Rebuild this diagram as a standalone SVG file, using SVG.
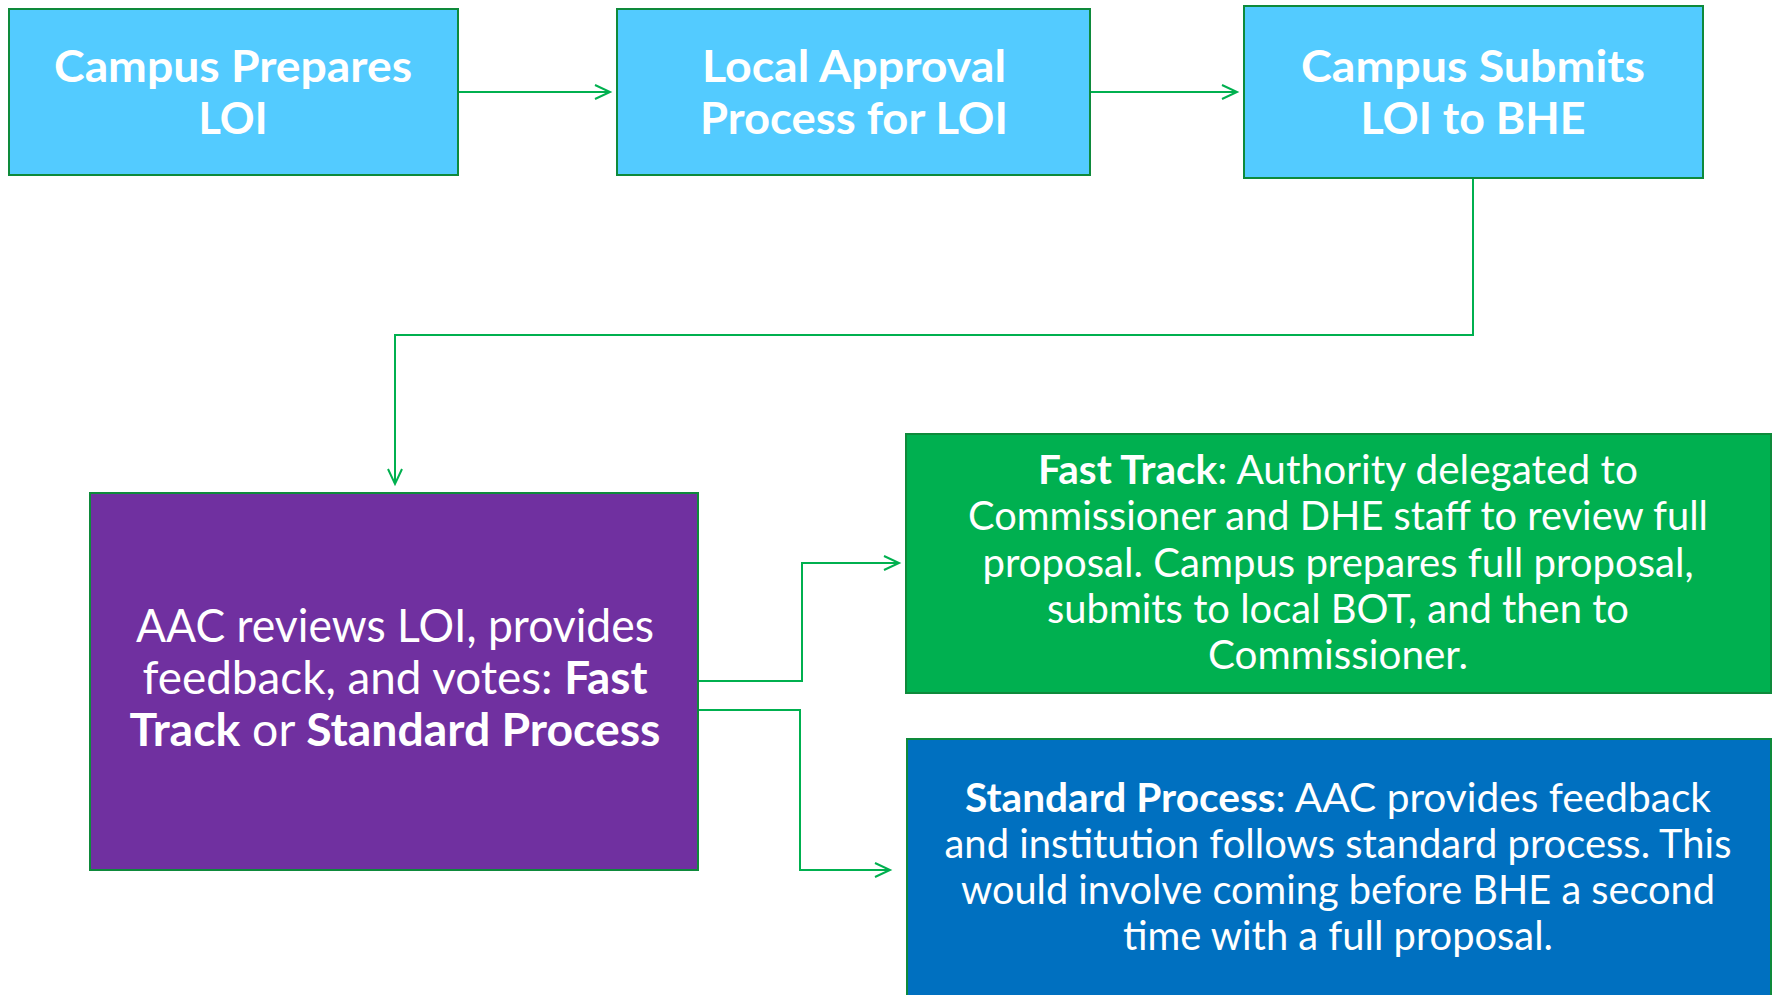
<svg xmlns="http://www.w3.org/2000/svg" width="1773" height="995" viewBox="0 0 1773 995">
<style>
.box{stroke:#0E8A3B;stroke-width:2}
.lb{fill:#53CBFF}
.t{fill:#FFFFFF;font-family:Lato,"Open Sans","Liberation Sans",sans-serif;text-anchor:middle}
.b{font-weight:bold}
.h{font-size:44px;font-weight:bold}
.m{font-size:46px}
.s{font-size:40px}
.c{fill:none;stroke:#00B04F;stroke-width:2}
</style>
<defs>
<marker id="arr" markerWidth="20" markerHeight="20" refX="17" refY="8" orient="auto" markerUnits="userSpaceOnUse" viewBox="0 0 20 16">
<polyline points="2,1 17,8 2,15" fill="none" stroke="#00B04F" stroke-width="2"/>
</marker>
</defs>
<rect width="1773" height="995" fill="#FFFFFF"/>
<g id="connectors">
<path class="c" d="M458,92 H610" marker-end="url(#arr)"/>
<path class="c" d="M1090,92 H1237" marker-end="url(#arr)"/>
<path class="c" d="M1473,178 V335 H395 V484" marker-end="url(#arr)"/>
<path class="c" d="M698,681 H802 V563 H899" marker-end="url(#arr)"/>
<path class="c" d="M698,710 H800 V870 H890" marker-end="url(#arr)"/>
</g>
<g id="node1">
<rect class="box lb" x="9" y="9" width="449" height="166"/>
<text class="t h" x="233" y="82" textLength="358" lengthAdjust="spacingAndGlyphs">Campus Prepares</text>
<text class="t h" x="233" y="134" textLength="69" lengthAdjust="spacingAndGlyphs">LOI</text>
</g>
<g id="node2">
<rect class="box lb" x="617" y="9" width="473" height="166"/>
<text class="t h" x="854" y="82" textLength="304" lengthAdjust="spacingAndGlyphs">Local Approval</text>
<text class="t h" x="854" y="134" textLength="308" lengthAdjust="spacingAndGlyphs">Process for LOI</text>
</g>
<g id="node3">
<rect class="box lb" x="1244" y="6" width="459" height="172"/>
<text class="t h" x="1473" y="82" textLength="344" lengthAdjust="spacingAndGlyphs">Campus Submits</text>
<text class="t h" x="1473" y="134" textLength="225" lengthAdjust="spacingAndGlyphs">LOI to BHE</text>
</g>
<g id="node4">
<rect class="box" fill="#7030A0" x="90" y="493" width="608" height="377"/>
<text class="t m" x="395" y="642" textLength="518" lengthAdjust="spacingAndGlyphs">AAC reviews LOI, provides</text>
<text class="t m" x="395" y="694" textLength="505" lengthAdjust="spacingAndGlyphs">feedback, and votes: <tspan class="b">Fast</tspan></text>
<text class="t m" x="395" y="746" textLength="531" lengthAdjust="spacingAndGlyphs"><tspan class="b">Track</tspan> or <tspan class="b">Standard Process</tspan></text>
</g>
<g id="node5">
<rect class="box" fill="#00B050" x="906" y="434" width="865" height="259"/>
<text class="t s" x="1338" y="484" textLength="600" lengthAdjust="spacingAndGlyphs"><tspan class="b">Fast Track</tspan>: Authority delegated to</text>
<text class="t s" x="1338" y="530" textLength="740" lengthAdjust="spacingAndGlyphs">Commissioner and DHE staff to review full</text>
<text class="t s" x="1338" y="577" textLength="711" lengthAdjust="spacingAndGlyphs">proposal. Campus prepares full proposal,</text>
<text class="t s" x="1338" y="623" textLength="582" lengthAdjust="spacingAndGlyphs">submits to local BOT, and then to</text>
<text class="t s" x="1338" y="669" textLength="260" lengthAdjust="spacingAndGlyphs">Commissioner.</text>
</g>
<g id="node6">
<rect class="box" fill="#0070C0" x="907" y="739" width="864" height="270"/>
<text class="t s" x="1338" y="812" textLength="746" lengthAdjust="spacingAndGlyphs"><tspan class="b">Standard Process</tspan>: AAC provides feedback</text>
<text class="t s" x="1338" y="858" textLength="787" lengthAdjust="spacingAndGlyphs">and institution follows standard process. This</text>
<text class="t s" x="1338" y="904" textLength="754" lengthAdjust="spacingAndGlyphs">would involve coming before BHE a second</text>
<text class="t s" x="1338" y="950" textLength="430" lengthAdjust="spacingAndGlyphs">time with a full proposal.</text>
</g>
</svg>
